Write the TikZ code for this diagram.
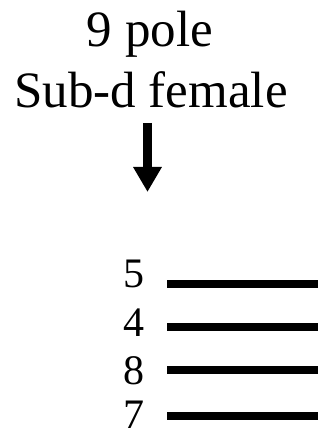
\documentclass[tikz,border=0pt]{standalone}
\usepackage{fontspec}
\setmainfont{LiberationSerif}[Extension=.ttf,UprightFont=*-Regular,BoldFont=*-Bold]
\usetikzlibrary{arrows.meta}
\begin{document}
\begin{tikzpicture}[x=1pt,y=1pt,
  title/.style={inner sep=0pt,anchor=base,font=\rmfamily\fontsize{51}{60}\selectfont},
  pin/.style={inner sep=0pt,anchor=base east,font=\rmfamily\fontsize{42}{50}\selectfont},
  wire/.style={line width=8pt},
  arr/.style={line width=9pt,-{Triangle[width=27pt,length=25pt]}}]
\useasboundingbox (0,0) rectangle (322,435);
\node[title] (t1) at (150,388) {9 pole};
\node[title] (t2) at (151,327) {Sub-d female};
\coordinate (a1) at (147.5,312);
\coordinate (a2) at (147.5,243);
\draw[arr] (a1) -- (a2);
\node[pin] (p5) at (145,147) {5};
\node[pin] (p4) at (145,98) {4};
\node[pin] (p8) at (145,50) {8};
\node[pin] (p7) at (145,6) {7};
\coordinate (l5a) at (167,151); \coordinate (l5b) at (318,151);
\coordinate (l4a) at (167,108); \coordinate (l4b) at (318,108);
\coordinate (l8a) at (167,65);  \coordinate (l8b) at (318,65);
\coordinate (l7a) at (167,19);  \coordinate (l7b) at (318,19);
\draw[wire] (l5a) -- (l5b);
\draw[wire] (l4a) -- (l4b);
\draw[wire] (l8a) -- (l8b);
\draw[wire] (l7a) -- (l7b);
\end{tikzpicture}
\end{document}
